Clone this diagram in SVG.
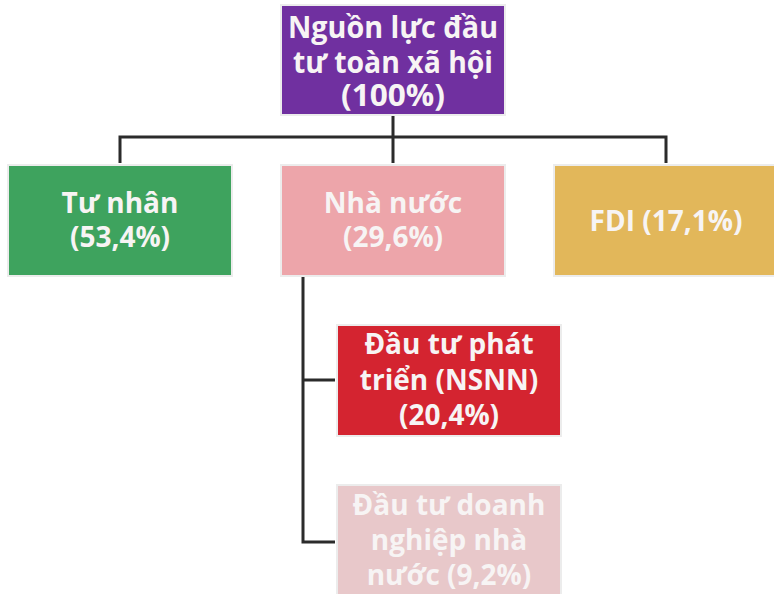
<svg xmlns="http://www.w3.org/2000/svg" width="774" height="594" viewBox="0 0 774 594">
<style>
.box{stroke:#ececec;stroke-width:2}
.t{font-family:"Open Sans","Liberation Sans",sans-serif;font-weight:bold;fill:#f7f4f4;text-anchor:middle}
.c{fill:none;stroke:#2b2b2b;stroke-width:3}
</style>
<rect width="774" height="594" fill="#ffffff"/>
<g id="connectors">
<path class="c" d="M393,115 V137 M120,163 V137 H666 V163 M393,137 V163"/>
<path class="c" d="M303,277 V542 H335 M303,380 H335"/>
</g>
<g id="root">
<rect class="box" x="281" y="5" width="224" height="110" fill="#7030A0"/>
<text class="t" font-size="31" x="393" y="38" textLength="210" lengthAdjust="spacingAndGlyphs">Nguồn lực đầu</text>
<text class="t" font-size="31" x="393" y="73" textLength="200" lengthAdjust="spacingAndGlyphs">tư toàn xã hội</text>
<text class="t" font-size="31" x="393" y="106" textLength="104" lengthAdjust="spacingAndGlyphs">(100%)</text>
</g>
<g id="tu-nhan">
<rect class="box" x="8" y="165" width="224" height="111" fill="#3EA35E"/>
<text class="t" font-size="28" x="120" y="213">Tư nhân</text>
<text class="t" font-size="28" x="120" y="247">(53,4%)</text>
</g>
<g id="nha-nuoc">
<rect class="box" x="281" y="165" width="224" height="111" fill="#EDA5AA"/>
<text class="t" font-size="28" x="393" y="213">Nhà nước</text>
<text class="t" font-size="28" x="393" y="247">(29,6%)</text>
</g>
<g id="fdi">
<rect class="box" x="554" y="165" width="222" height="111" fill="#E2B75A"/>
<text class="t" font-size="28" x="666" y="231">FDI (17,1%)</text>
</g>
<g id="dau-tu-phat-trien">
<rect class="box" x="337" y="325" width="224" height="111" fill="#D42430"/>
<text class="t" font-size="28" x="449" y="354">Đầu tư phát</text>
<text class="t" font-size="28" x="449" y="390">triển (NSNN)</text>
<text class="t" font-size="28" x="449" y="425">(20,4%)</text>
</g>
<g id="dau-tu-dnnn">
<rect class="box" x="337" y="485" width="224" height="115" fill="#E8C8CA"/>
<text class="t" font-size="28" x="449" y="515">Đầu tư doanh</text>
<text class="t" font-size="28" x="449" y="550">nghiệp nhà</text>
<text class="t" font-size="28" x="449" y="585">nước (9,2%)</text>
</g>
</svg>
